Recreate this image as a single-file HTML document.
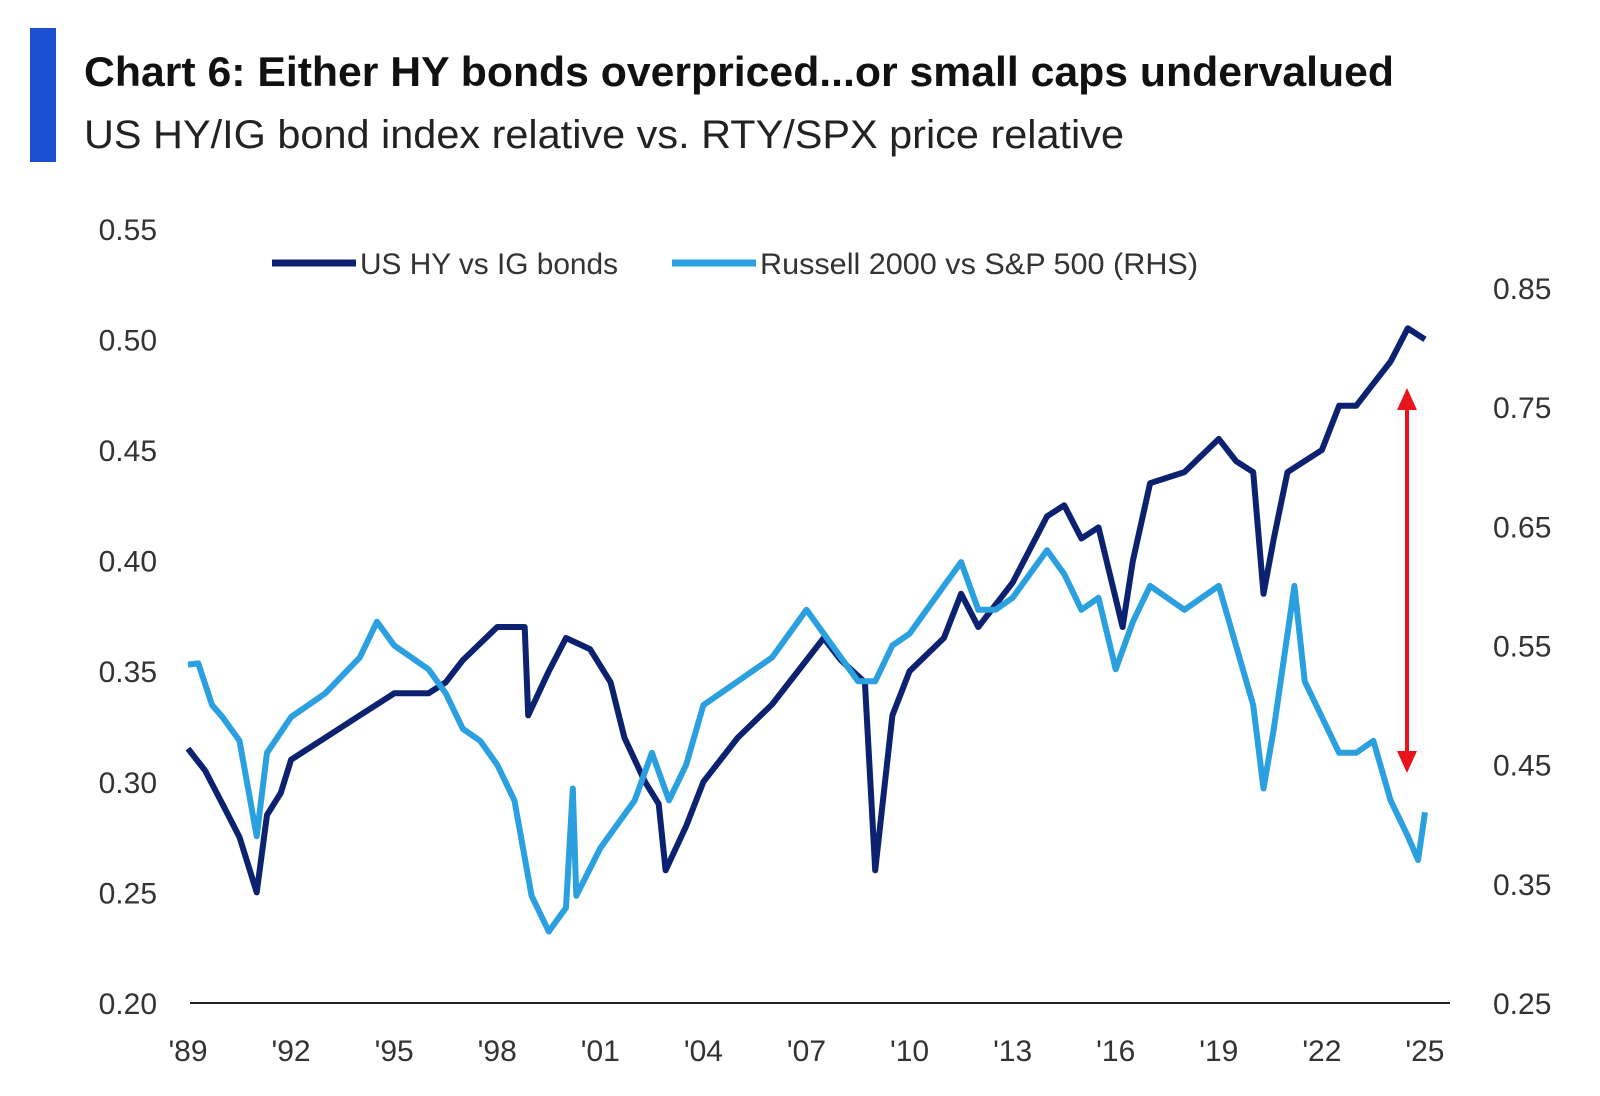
<!DOCTYPE html>
<html><head><meta charset="utf-8"><style>
html,body{margin:0;padding:0;background:#fff;}
svg{display:block;font-family:"Liberation Sans",sans-serif;}
</style></head><body>
<svg id="chart" width="1600" height="1096" viewBox="0 0 1600 1096">
<rect x="30" y="28" width="26" height="134" fill="#1a4fd0"/>
<text x="84" y="86" font-size="42" font-weight="bold" fill="#111" textLength="1310" lengthAdjust="spacingAndGlyphs">Chart 6: Either HY bonds overpriced...or small caps undervalued</text>
<text x="84" y="148" font-size="40" fill="#222" textLength="1040" lengthAdjust="spacingAndGlyphs">US HY/IG bond index relative vs. RTY/SPX price relative</text>
<g>
<line x1="272" y1="263" x2="356" y2="263" stroke="#0c2270" stroke-width="7"/>
<text x="360" y="274" font-size="30" fill="#333" textLength="258" lengthAdjust="spacingAndGlyphs">US HY vs IG bonds</text>
<line x1="672" y1="263" x2="756" y2="263" stroke="#2aa0e0" stroke-width="7"/>
<text x="760" y="274" font-size="30" fill="#333" textLength="438" lengthAdjust="spacingAndGlyphs">Russell 2000 vs S&amp;P 500 (RHS)</text>
</g>
<g id="axes"></g>
<g id="series"></g>
<g>
<line x1="1407" y1="405" x2="1407" y2="755" stroke="#e8141c" stroke-width="4"/>
<polygon points="1407,388 1397,410 1417,410" fill="#e8141c"/>
<polygon points="1407,773 1397,751 1417,751" fill="#e8141c"/>
</g>
</svg>
<script>
const leftTicks=[0.20,0.25,0.30,0.35,0.40,0.45,0.50,0.55];
const rightTicks=[0.25,0.35,0.45,0.55,0.65,0.75,0.85];
const xTickYears=[1989,1992,1995,1998,2001,2004,2007,2010,2013,2016,2019,2022,2025];
const hyYears=[1989,1989.5,1990,1990.5,1991,1991.3,1991.7,1992,1993,1994,1995,1996,1996.5,1997,1998,1998.8,1998.9,1999.5,2000,2000.7,2001.3,2001.7,2002.3,2002.7,2002.9,2003.5,2004,2005,2006,2007,2007.5,2008,2008.7,2009,2009.5,2010,2011,2011.5,2012,2012.5,2013,2014,2014.5,2015,2015.5,2016.2,2016.5,2017,2018,2019,2019.5,2020,2020.3,2020.6,2021,2022,2022.5,2023,2023.5,2024,2024.5,2025];
const hyValues=[0.315,0.305,0.29,0.275,0.25,0.285,0.295,0.31,0.32,0.33,0.34,0.34,0.345,0.355,0.37,0.37,0.33,0.35,0.365,0.36,0.345,0.32,0.30,0.29,0.26,0.28,0.30,0.32,0.335,0.355,0.365,0.355,0.345,0.26,0.33,0.35,0.365,0.385,0.37,0.38,0.39,0.42,0.425,0.41,0.415,0.37,0.40,0.435,0.44,0.455,0.445,0.44,0.385,0.41,0.44,0.45,0.47,0.47,0.48,0.49,0.505,0.50];
const rtyYears=[1989,1989.3,1989.7,1990,1990.5,1991,1991.3,1992,1992.5,1993,1994,1994.5,1995,1996,1996.5,1997,1997.5,1998,1998.5,1999,1999.5,2000,2000.2,2000.3,2001,2002,2002.5,2003,2003.5,2004,2005,2006,2006.5,2007,2007.5,2008,2008.5,2009,2009.5,2010,2010.5,2011,2011.5,2012,2012.5,2013,2014,2014.5,2015,2015.5,2016,2016.5,2017,2018,2019,2019.5,2020,2020.3,2020.6,2021.2,2021.5,2022,2022.5,2023,2023.5,2024,2024.5,2024.8,2025];
const rtyValues=[0.534,0.535,0.50,0.49,0.47,0.39,0.46,0.49,0.50,0.51,0.54,0.57,0.55,0.53,0.51,0.48,0.47,0.45,0.42,0.34,0.31,0.33,0.43,0.34,0.38,0.42,0.46,0.42,0.45,0.50,0.52,0.54,0.56,0.58,0.56,0.54,0.52,0.52,0.55,0.56,0.58,0.60,0.62,0.58,0.58,0.59,0.63,0.61,0.58,0.59,0.53,0.57,0.60,0.58,0.60,0.55,0.50,0.43,0.48,0.60,0.52,0.49,0.46,0.46,0.47,0.42,0.39,0.37,0.41];
const X=y=>188+(y-1989)*34.36;
const YL=v=>1003-(v-0.20)*2212;
const YR=v=>1003-(v-0.25)*(715/0.6);
const NS="http://www.w3.org/2000/svg";
const axes=document.getElementById('axes'),series=document.getElementById('series');
function mk(t,a,p){const e=document.createElementNS(NS,t);for(const k in a)e.setAttribute(k,a[k]);p.appendChild(e);return e;}
const base=mk('line',{x1:190,y1:1003,x2:1450,y2:1003,stroke:'#222','stroke-width':2},axes);


leftTicks.forEach(v=>{const t=mk('text',{x:157,y:YL(v)+11,'font-size':30,fill:'#333','text-anchor':'end'},axes);t.textContent=v.toFixed(2);

});
rightTicks.forEach(v=>{const t=mk('text',{x:1493,y:YR(v)+11,'font-size':30,fill:'#333'},axes);t.textContent=v.toFixed(2);

});
xTickYears.forEach(y=>{const t=mk('text',{x:X(y),y:1061,'font-size':30,fill:'#333','text-anchor':'middle'},axes);t.textContent="'"+String(y).slice(2);

});
function pathOf(xs,vs,yf){return xs.map((x,i)=>(i?'L':'M')+X(x).toFixed(1)+','+yf(vs[i]).toFixed(1)).join('');}
const p1=mk('path',{d:pathOf(hyYears,hyValues,YL),fill:'none',stroke:'#0c2270','stroke-width':6,'stroke-linejoin':'round'},series);


const p2=mk('path',{d:pathOf(rtyYears,rtyValues,YR),fill:'none',stroke:'#2aa0e0','stroke-width':6,'stroke-linejoin':'round'},series);


</script>
</body></html>
